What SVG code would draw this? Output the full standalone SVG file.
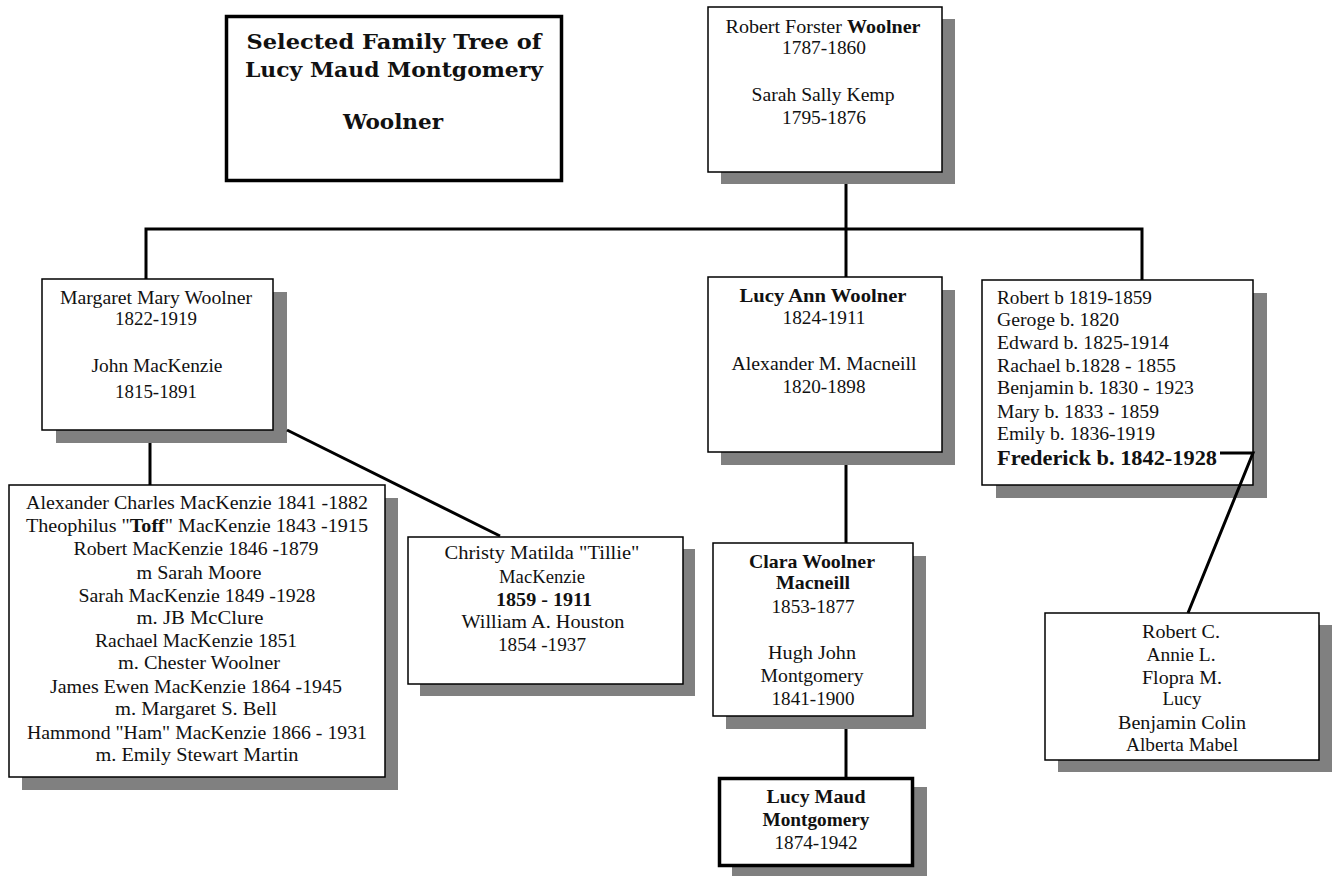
<svg xmlns="http://www.w3.org/2000/svg" width="1332" height="877" viewBox="0 0 1332 877">
<style>
.bg{fill:#fff}
.box{fill:#fff;stroke:#000;stroke-width:1.5}
.thick{fill:#fff;stroke:#000;stroke-width:3.5}
.sh{fill:#808080}
.t{font-family:"Liberation Serif","Times New Roman",serif;font-size:19px;fill:#111;text-anchor:middle}
.l{text-anchor:start}
.b{font-weight:bold}
.title{font-family:"DejaVu Serif","Liberation Serif",serif;font-size:21px;font-weight:bold;fill:#111;text-anchor:middle}
.c{fill:none;stroke:#000;stroke-width:3}
</style>
<rect class="bg" x="0" y="0" width="1332" height="877"/>

<g id="title">
<rect class="thick" x="226.5" y="16.5" width="335" height="164"/>
<text class="title" x="394" y="49" textLength="295" lengthAdjust="spacingAndGlyphs">Selected Family Tree of</text>
<text class="title" x="394" y="77" textLength="298" lengthAdjust="spacingAndGlyphs">Lucy Maud Montgomery</text>
<text class="title" x="393" y="129" textLength="100" lengthAdjust="spacingAndGlyphs">Woolner</text>
</g>

<g id="robert">
<rect class="sh" x="721" y="19" width="234" height="165"/>
<rect class="box" x="708" y="7" width="234" height="165"/>
<text class="t" x="823" y="33" textLength="195" lengthAdjust="spacingAndGlyphs">Robert Forster <tspan class="b">Woolner</tspan></text>
<text class="t" x="824" y="54" textLength="84" lengthAdjust="spacingAndGlyphs">1787-1860</text>
<text class="t" x="823" y="101" textLength="143" lengthAdjust="spacingAndGlyphs">Sarah Sally Kemp</text>
<text class="t" x="824" y="124" textLength="84" lengthAdjust="spacingAndGlyphs">1795-1876</text>
</g>

<g id="margaret">
<rect class="sh" x="56" y="292" width="231" height="151"/>
<rect class="box" x="42" y="279" width="231" height="151"/>
<text class="t" x="156" y="304" textLength="192" lengthAdjust="spacingAndGlyphs">Margaret Mary Woolner</text>
<text class="t" x="156" y="325" textLength="82" lengthAdjust="spacingAndGlyphs">1822-1919</text>
<text class="t" x="157" y="372" textLength="131" lengthAdjust="spacingAndGlyphs">John MacKenzie</text>
<text class="t" x="156" y="398" textLength="82" lengthAdjust="spacingAndGlyphs">1815-1891</text>
</g>

<g id="lucyann">
<rect class="sh" x="721" y="290" width="234" height="175"/>
<rect class="box" x="708" y="277" width="234" height="175"/>
<text class="t b" x="823" y="302" textLength="167" lengthAdjust="spacingAndGlyphs">Lucy Ann Woolner</text>
<text class="t" x="824" y="324" textLength="83" lengthAdjust="spacingAndGlyphs">1824-1911</text>
<text class="t" x="824" y="370" textLength="185" lengthAdjust="spacingAndGlyphs">Alexander M. Macneill</text>
<text class="t" x="824" y="393" textLength="83" lengthAdjust="spacingAndGlyphs">1820-1898</text>
</g>

<g id="siblings">
<rect class="sh" x="996" y="293" width="271" height="205"/>
<rect class="box" x="982" y="280" width="271" height="205"/>
<text class="t l" x="997" y="304" textLength="155" lengthAdjust="spacingAndGlyphs">Robert b 1819-1859</text>
<text class="t l" x="997" y="326" textLength="122" lengthAdjust="spacingAndGlyphs">Geroge  b. 1820</text>
<text class="t l" x="997" y="349" textLength="172" lengthAdjust="spacingAndGlyphs">Edward  b. 1825-1914</text>
<text class="t l" x="997" y="372" textLength="179" lengthAdjust="spacingAndGlyphs">Rachael  b.1828 - 1855</text>
<text class="t l" x="997" y="394" textLength="197" lengthAdjust="spacingAndGlyphs">Benjamin b. 1830 - 1923</text>
<text class="t l" x="997" y="418" textLength="162" lengthAdjust="spacingAndGlyphs">Mary b. 1833 - 1859</text>
<text class="t l" x="997" y="440" textLength="158" lengthAdjust="spacingAndGlyphs">Emily b. 1836-1919</text>
<text class="t l b" x="997" y="465" style="font-size:21px" textLength="220" lengthAdjust="spacingAndGlyphs">Frederick b. 1842-1928</text>
</g>

<g id="mackenzie-children">
<rect class="sh" x="22" y="498" width="376" height="292"/>
<rect class="box" x="9" y="485" width="376" height="292"/>
<text class="t" x="197" y="509" textLength="342" lengthAdjust="spacingAndGlyphs">Alexander Charles MacKenzie  1841 -1882</text>
<text class="t" x="197" y="532" textLength="342" lengthAdjust="spacingAndGlyphs">Theophilus "<tspan class="b">Toff</tspan>" MacKenzie  1843 -1915</text>
<text class="t" x="196" y="555" textLength="245" lengthAdjust="spacingAndGlyphs">Robert MacKenzie 1846 -1879</text>
<text class="t" x="199" y="579" textLength="125" lengthAdjust="spacingAndGlyphs">m Sarah Moore</text>
<text class="t" x="197" y="602" textLength="237" lengthAdjust="spacingAndGlyphs">Sarah MacKenzie  1849 -1928</text>
<text class="t" x="200" y="624" textLength="127" lengthAdjust="spacingAndGlyphs">m. JB McClure</text>
<text class="t" x="196" y="647" textLength="202" lengthAdjust="spacingAndGlyphs">Rachael MacKenzie 1851</text>
<text class="t" x="199" y="669" textLength="162" lengthAdjust="spacingAndGlyphs">m. Chester Woolner</text>
<text class="t" x="196" y="693" textLength="292" lengthAdjust="spacingAndGlyphs">James Ewen MacKenzie  1864 -1945</text>
<text class="t" x="196" y="715" textLength="162" lengthAdjust="spacingAndGlyphs">m. Margaret S. Bell</text>
<text class="t" x="197" y="739" textLength="340" lengthAdjust="spacingAndGlyphs">Hammond "Ham" MacKenzie 1866 - 1931</text>
<text class="t" x="197" y="761" textLength="203" lengthAdjust="spacingAndGlyphs">m. Emily Stewart Martin</text>
</g>

<g id="tillie">
<rect class="sh" x="420" y="549" width="275" height="147"/>
<rect class="box" x="408" y="537" width="275" height="147"/>
<text class="t" x="542" y="559" textLength="195" lengthAdjust="spacingAndGlyphs">Christy Matilda "Tillie"</text>
<text class="t" x="542" y="583" textLength="86" lengthAdjust="spacingAndGlyphs">MacKenzie</text>
<text class="t b" x="544" y="606" textLength="96" lengthAdjust="spacingAndGlyphs">1859 - 1911</text>
<text class="t" x="543" y="628" textLength="163" lengthAdjust="spacingAndGlyphs">William A. Houston</text>
<text class="t" x="542" y="651" textLength="88" lengthAdjust="spacingAndGlyphs">1854 -1937</text>
</g>

<g id="clara">
<rect class="sh" x="726" y="556" width="200" height="173"/>
<rect class="box" x="713" y="543" width="200" height="173"/>
<text class="t b" x="812" y="568" textLength="126" lengthAdjust="spacingAndGlyphs">Clara Woolner</text>
<text class="t b" x="813" y="589" textLength="74" lengthAdjust="spacingAndGlyphs">Macneill</text>
<text class="t" x="813" y="613" textLength="83" lengthAdjust="spacingAndGlyphs">1853-1877</text>
<text class="t" x="812" y="659" textLength="88" lengthAdjust="spacingAndGlyphs">Hugh John</text>
<text class="t" x="812" y="682" textLength="103" lengthAdjust="spacingAndGlyphs">Montgomery</text>
<text class="t" x="813" y="705" textLength="83" lengthAdjust="spacingAndGlyphs">1841-1900</text>
</g>

<g id="lucymaud">
<rect class="sh" x="732" y="787" width="195" height="89"/>
<rect class="thick" x="719.5" y="778.5" width="193" height="87"/>
<text class="t b" x="816" y="803" textLength="99" lengthAdjust="spacingAndGlyphs">Lucy Maud</text>
<text class="t b" x="816" y="826" textLength="107" lengthAdjust="spacingAndGlyphs">Montgomery</text>
<text class="t" x="816" y="849" textLength="83" lengthAdjust="spacingAndGlyphs">1874-1942</text>
</g>

<g id="frederick-children">
<rect class="sh" x="1058" y="625" width="274" height="147"/>
<rect class="box" x="1045" y="613" width="274" height="147"/>
<text class="t" x="1181" y="638" textLength="78" lengthAdjust="spacingAndGlyphs">Robert C.</text>
<text class="t" x="1181" y="661" textLength="69" lengthAdjust="spacingAndGlyphs">Annie L.</text>
<text class="t" x="1182" y="684" textLength="80" lengthAdjust="spacingAndGlyphs">Flopra M.</text>
<text class="t" x="1182" y="705" textLength="39" lengthAdjust="spacingAndGlyphs">Lucy</text>
<text class="t" x="1182" y="729" textLength="128" lengthAdjust="spacingAndGlyphs">Benjamin Colin</text>
<text class="t" x="1182" y="751" textLength="112" lengthAdjust="spacingAndGlyphs">Alberta Mabel</text>
</g>

<g id="connectors">
<path class="c" d="M846 184 V277"/>
<path class="c" d="M146 279 V229 H1142 V280"/>
<path class="c" d="M150 443 V485"/>
<path class="c" d="M287 430 L500 536"/>
<path class="c" d="M846 465 V543"/>
<path class="c" d="M846 729 V777"/>
<path class="c" d="M1220 453 H1253 L1188 613"/>
</g>
</svg>
